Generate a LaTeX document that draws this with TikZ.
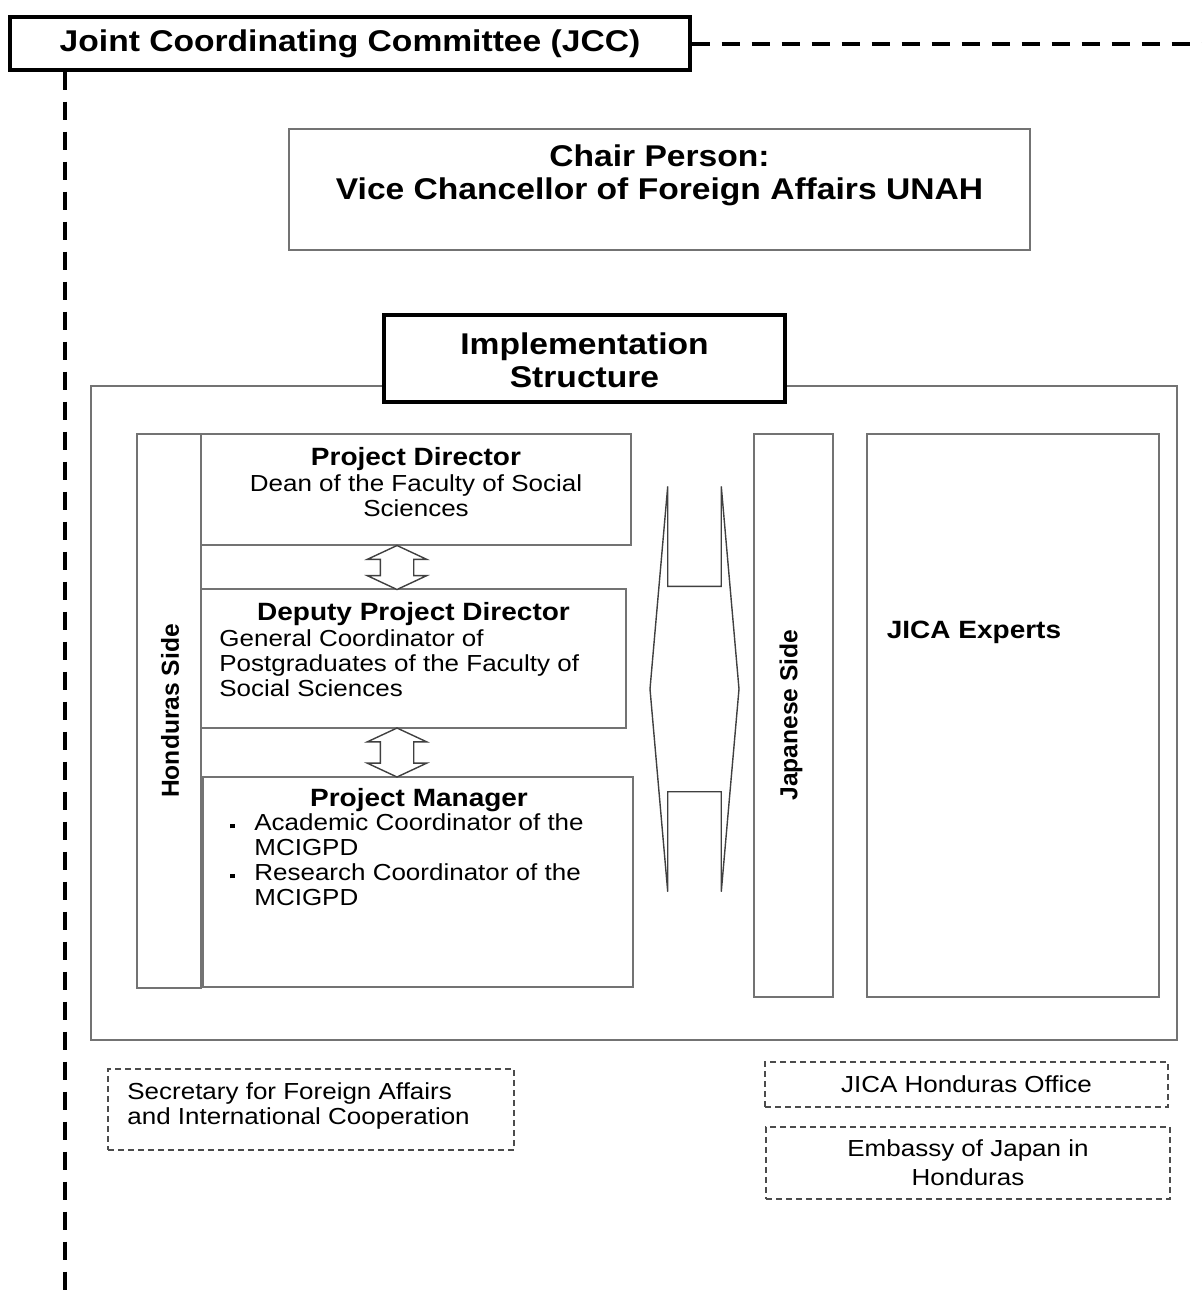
\documentclass[tikz,border=0pt]{standalone}
\usepackage{fontspec}
\setmainfont{Liberation Sans}[FakeStretch=1.12]
\newfontfamily\sidefont{Liberation Sans}
\usepackage{tikz}
\usetikzlibrary{shapes.arrows}
\newcommand{\pmdot}{\makebox[12pt][l]{\rule[0.2ex]{2.2pt}{2.2pt}}}

\begin{document}
\begin{tikzpicture}[
    x=0.5pt, y=-0.5pt,
    font=\fontsize{11.6pt}{12.5pt}\selectfont,
    box/.style={rectangle, draw=black!55, line width=0.7pt, inner sep=0pt},
    heavybox/.style={rectangle, draw=black, line width=1.6pt, inner sep=0pt, fill=white},
    dashbox/.style={rectangle, draw=black!70, line width=0.6pt, dash pattern=on 3pt off 2pt, inner sep=0pt},
    txt/.style={inner sep=0pt, align=center},
    title/.style={inner sep=0pt, align=center, font=\fontsize{12.5pt}{14pt}\selectfont\bfseries},
    big/.style={inner sep=0pt, align=center, font=\fontsize{15pt}{16.5pt}\selectfont\bfseries},
    side/.style={inner sep=0pt, rotate=90, font=\sidefont\fontsize{12.3pt}{14pt}\selectfont\bfseries},
    jccline/.style={line width=2pt, dash pattern=on 9pt off 6pt},
    linkarrow/.style={double arrow, draw=black!75, line width=0.7pt, fill=white}
]
\useasboundingbox (0,0) rectangle (1202,1292);

\node[heavybox, big, minimum width=340pt, minimum height=26.5pt] (jcc) at (350,43.5) {Joint Coordinating Committee (JCC)};
\coordinate (jccright) at (1202,43.5);
\coordinate (jccbottom) at (65,1292);
\draw[jccline] (jcc.east) -- (jccright);
\draw[jccline] (jcc.south -| jccbottom) -- (jccbottom);

\node[box, minimum width=370.5pt, minimum height=60.5pt] (chair) at (659.5,189.5) {};
\node[big] (chairtxt) at (659.5,175) {Chair Person:\\Vice Chancellor of Foreign Affairs UNAH};

\node[box, minimum width=543pt, minimum height=327pt] (frame) at (634,713) {};
\node[heavybox, minimum width=200.5pt, minimum height=43.5pt] (impl) at (584.5,358.5) {};
\node[big] (impltxt) at (584.5,360) {Implementation\\Structure};

\node[box, minimum width=32pt, minimum height=277pt] (hside) at (169,711) {};
\node[side] (hsidetxt) at (170,711) {Honduras Side};

\node[box, minimum width=215pt, minimum height=55.5pt] (pd) at (416,489.5) {};
\node[title] (pdtitle) at (416,459) {Project Director};
\node[txt] (pdtxt) at (416,495.5) {Dean of the Faculty of Social\\Sciences};

\node[box, minimum width=212.5pt, minimum height=69.5pt] (dpd) at (413.5,658.5) {};
\node[title] (dpdtitle) at (413.5,614) {Deputy Project Director};
\node[txt, align=left, anchor=west] (dpdtxt) at (219,663) {General Coordinator of\\Postgraduates of the Faculty of\\Social Sciences};

\node[box, minimum width=215pt, minimum height=105pt] (pm) at (418,882) {};
\node[title] (pmtitle) at (419,800) {Project Manager};
\node[txt, align=left, anchor=west] (pmtxt) at (230,860) {\pmdot Academic Coordinator of the\\\hspace*{12pt}MCIGPD\\\pmdot Research Coordinator of the\\\hspace*{12pt}MCIGPD};

\node[linkarrow, shape border rotate=90, inner xsep=8pt, inner ysep=0pt, minimum height=22pt, minimum width=29pt, double arrow head extend=6.5pt, double arrow tip angle=130] (pdlink) at (397,567.5) {};
\node[linkarrow, shape border rotate=90, inner xsep=8pt, inner ysep=0pt, minimum height=24.5pt, minimum width=29pt, double arrow head extend=6.5pt, double arrow tip angle=130] (dpdlink) at (397,752.5) {};

\node[linkarrow, inner xsep=0pt, inner ysep=51pt, minimum height=44.5pt, minimum width=202pt, double arrow head extend=50pt, double arrow tip angle=170] (sidelink) at (694.5,689) {};

\node[box, minimum width=39.5pt, minimum height=281.5pt] (jside) at (793.5,715.5) {};
\node[side] (jsidetxt) at (791,715) {Japanese Side};
\node[box, minimum width=146pt, minimum height=281.5pt] (jica) at (1013,715.5) {};
\node[title] (jicatxt) at (974,632) {JICA Experts};

\node[dashbox, minimum width=203pt, minimum height=40.5pt] (sec) at (311,1109.5) {};
\node[txt, align=left, anchor=west] (sectxt) at (127,1106) {Secretary for Foreign Affairs\\and International Cooperation};
\node[dashbox, minimum width=201.5pt, minimum height=22.5pt] (office) at (966.5,1084.5) {JICA Honduras Office};
\node[dashbox, align=center, minimum width=202pt, minimum height=36pt, font=\fontsize{11.6pt}{14.5pt}\selectfont] (emb) at (968,1163) {Embassy of Japan in\\Honduras};

\end{tikzpicture}
\end{document}
